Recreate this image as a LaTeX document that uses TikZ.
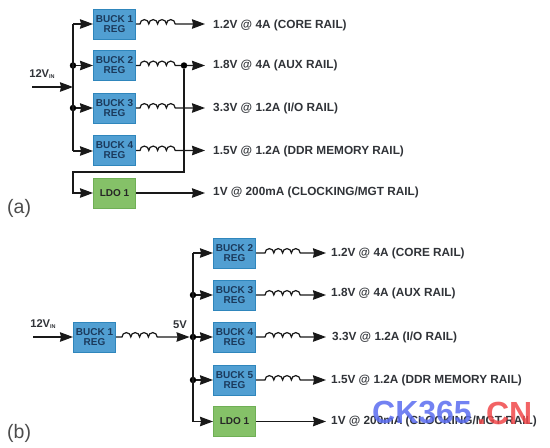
\documentclass[tikz,border=0pt]{standalone}
\usepackage{fontspec}
\setmainfont{Liberation Sans}
\usetikzlibrary{arrows.meta}
\definecolor{bluefill}{HTML}{519FD2}
\definecolor{blueedge}{HTML}{2F86BC}
\definecolor{greenfill}{HTML}{85C168}
\definecolor{greenedge}{HTML}{6FAF55}
\definecolor{labelink}{HTML}{303338}
\definecolor{boxink}{HTML}{1B3A5C}
\definecolor{wmblue}{HTML}{5A6CF0}
\definecolor{wmred}{HTML}{F0484A}
\newcommand{\coilpath}{arc[start angle=180,end angle=360,radius=4.4] arc[start angle=180,end angle=360,radius=4.4] arc[start angle=180,end angle=360,radius=4.4] arc[start angle=180,end angle=360,radius=4.4]}
\tikzset{
  x=1pt,y=-1pt,
  reg/.style={draw=blueedge,line width=1pt,fill=bluefill,minimum width=42pt,minimum height=30pt,inner sep=0pt,align=center,
    font=\fontsize{10}{10}\selectfont\bfseries,text=boxink},
  ldo/.style={reg,draw=greenedge,fill=greenfill,text=black!85},
  rail/.style={anchor=west,inner sep=0pt,font=\fontsize{11.8}{13}\selectfont\bfseries,text=labelink},
  vin/.style={inner sep=0pt,font=\fontsize{11.2}{13}\selectfont\bfseries,text=labelink},
  tag/.style={anchor=west,inner sep=0pt,font=\fontsize{19.5}{22}\selectfont,text=black!70},
  wire/.style={draw=black!90,line width=1.2pt},
  feed/.style={wire,-{Stealth[length=13pt,width=9.5pt,inset=1pt]}},
  junction/.style={circle,fill=black,minimum size=6.5pt,inner sep=0pt},
}
\newcommand{\vinlabel}{12V{\fontsize{5.5}{6}\selectfont\raisebox{-1.5pt}{IN}}}
\begin{document}
\begin{tikzpicture}
\useasboundingbox (0,0) rectangle (550,448);
% ---------- (a)
\node[reg] (a1) at (114.5,24) {BUCK 1\\REG};
\node[reg] (a2) at (114.5,65.5) {BUCK 2\\REG};
\node[reg] (a3) at (114.5,108) {BUCK 3\\REG};
\node[reg] (a4) at (114.5,150.5) {BUCK 4\\REG};
\node[ldo] (a5) at (114.5,193) {LDO 1};
\node[vin] at (42,74) {\vinlabel};
\coordinate (ain) at (32,87);
\coordinate (abus) at (73,87);
\draw[feed] (ain) -- (abus);
\coordinate (atop) at (73,24);
\coordinate (abot) at (73,151);
\node[junction] (aj2) at (73,65.5) {};
\node[junction] (aj3) at (73,108) {};
\draw[wire] (atop) -- (abot);
\draw[feed] (atop) -- (a1.west);
\draw[feed] (aj2) -- (a2.west);
\draw[feed] (aj3) -- (a3.west);
\draw[feed] (abot) -- (a4.west |- abot);
\node[rail] (ar1) at (213,25) {1.2V @ 4A (CORE RAIL)};
\node[rail] (ar2) at (213,65) {1.8V @ 4A (AUX RAIL)};
\node[rail] (ar3) at (213,108) {3.3V @ 1.2A (I/O RAIL)};
\node[rail] (ar4) at (213,151) {1.5V @ 1.2A (DDR MEMORY RAIL)};
\node[rail] (ar5) at (213,192) {1V @ 200mA (CLOCKING/MGT RAIL)};
\draw[feed] (a1.east) -- ++(4,0) \coilpath -- ([xshift=-8pt]ar1.west |- a1.east);
\draw[feed] (a2.east) -- ++(4,0) \coilpath -- ([xshift=-8pt]ar2.west |- a2.east);
\draw[feed] (a3.east) -- ++(4,0) \coilpath -- ([xshift=-8pt]ar3.west |- a3.east);
\draw[feed] (a4.east) -- ++(4,0) \coilpath -- ([xshift=-8pt]ar4.west |- a4.east);
\draw[feed] (a5.east) -- ([xshift=-8pt]ar5.west |- a5.east);
\node[junction] (ajo) at (184,65.5) {};
\coordinate (acorner) at (73,172);
\draw[feed] (ajo) -- (184,172) -- (acorner) |- (a5.west);
\node[tag] at (7,208) {(a)};
% ---------- (b)
\node[reg] (b0) at (94.5,337) {BUCK 1\\REG};
\node[reg] (b1) at (234.5,253) {BUCK 2\\REG};
\node[reg] (b2) at (234.5,295) {BUCK 3\\REG};
\node[reg] (b3) at (234.5,337) {BUCK 4\\REG};
\node[reg] (b4) at (234.5,380) {BUCK 5\\REG};
\node[ldo] (b5) at (234.5,421.5) {LDO 1};
\node[vin] at (43,324) {\vinlabel};
\coordinate (bin) at (33,337);
\draw[feed] (bin) -- (b0.west);
\node[vin] at (180,325) {5V};
\node[junction] (bj3) at (193,337) {};
\node[junction] (bj2) at (193,295) {};
\node[junction] (bj4) at (193,380) {};
\draw[feed] (b0.east) -- ++(6,0) \coilpath -- (bj3.west);
\coordinate (btop) at (193,253);
\coordinate (bbot) at (193,421.5);
\draw[wire] (btop) -- (bbot);
\draw[feed] (btop) -- (b1.west);
\draw[feed] (bj2) -- (b2.west);
\draw[feed] (bj3) -- (b3.west);
\draw[feed] (bj4) -- (b4.west);
\draw[feed] (bbot) -- (b5.west);
\node[rail] (br1) at (331,253) {1.2V @ 4A (CORE RAIL)};
\node[rail] (br2) at (331,293) {1.8V @ 4A (AUX RAIL)};
\node[rail] (br3) at (332,337) {3.3V @ 1.2A (I/O RAIL)};
\node[rail] (br4) at (331,380) {1.5V @ 1.2A (DDR MEMORY RAIL)};
\node[rail] (br5) at (331,421) {1V @ 200mA (CLOCKING/MGT RAIL)};
\draw[feed] (b1.east) -- ++(9,0) \coilpath -- ([xshift=-5pt]br1.west |- b1.east);
\draw[feed] (b2.east) -- ++(9,0) \coilpath -- ([xshift=-5pt]br2.west |- b2.east);
\draw[feed] (b3.east) -- ++(9,0) \coilpath -- ([xshift=-6pt]br3.west |- b3.east);
\draw[feed] (b4.east) -- ++(9,0) \coilpath -- ([xshift=-5pt]br4.west |- b4.east);
\draw[feed] (b5.east) -- ([xshift=-5pt]br5.west |- b5.east);
\node[tag] at (7,433) {(b)};
% ---------- watermark
\node[anchor=west,inner sep=0pt,text=wmblue,opacity=.85,font=\fontsize{32}{34}\selectfont\bfseries] (wm1) at (372,413) {CK365};
\node[anchor=west,inner sep=0pt,text=wmred,opacity=.85,font=\fontsize{32}{34}\selectfont\bfseries] (wm2) at (477,413) {.CN};
\end{tikzpicture}
\end{document}
